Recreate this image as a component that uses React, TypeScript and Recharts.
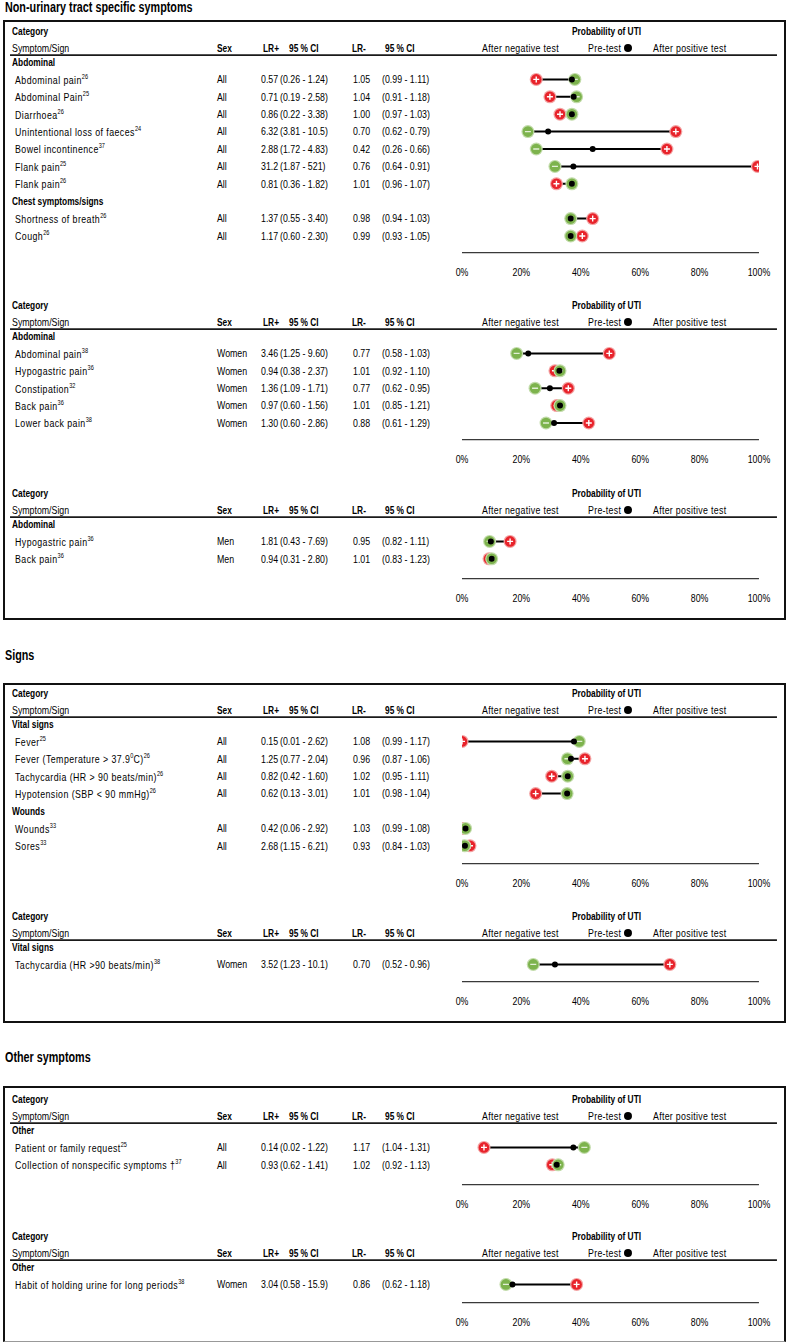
import React from "react";
import { ScatterChart, Scatter, XAxis, YAxis } from "recharts";

// row: label, sex, LR+, 95% CI, LR-, 95% CI, pre-test, after negative test, after positive test
type Row = (string | number)[];

const sectionTitles = ["Non-urinary tract specific symptoms", "Signs", "Other symptoms"];

const nonUrinaryAll: Row[] = [
  ["Abdominal"],
  ["Abdominal pain^{26}", "All", "0.57", "(0.26 - 1.24)", "1.05", "(0.99 - 1.11)", 0.37, 0.38, 0.25],
  ["Abdominal Pain^{25}", "All", "0.71", "(0.19 - 2.58)", "1.04", "(0.91 - 1.18)", 0.376, 0.386, 0.296],
  ["Diarrhoea^{26}", "All", "0.86", "(0.22 - 3.38)", "1.00", "(0.97 - 1.03)", 0.37, 0.37, 0.33],
  ["Unintentional loss of faeces^{24}", "All", "6.32", "(3.81 - 10.5)", "0.70", "(0.62 - 0.79)", 0.29, 0.222, 0.72],
  ["Bowel incontinence^{37}", "All", "2.88", "(1.72 - 4.83)", "0.42", "(0.26 - 0.66)", 0.44, 0.25, 0.69],
  ["Flank pain^{25}", "All", "31.2", "(1.87 - 521)", "0.76", "(0.64 - 0.91)", 0.375, 0.313, 0.995],
  ["Flank pain^{26}", "All", "0.81", "(0.36 - 1.82)", "1.01", "(0.96 - 1.07)", 0.37, 0.37, 0.318],
  ["Chest symptoms/signs"],
  ["Shortness of breath^{26}", "All", "1.37", "(0.55 - 3.40)", "0.98", "(0.94 - 1.03)", 0.366, 0.366, 0.44],
  ["Cough^{26}", "All", "1.17", "(0.60 - 2.30)", "0.99", "(0.93 - 1.05)", 0.366, 0.366, 0.405],
];

const nonUrinaryWomen: Row[] = [
  ["Abdominal"],
  ["Abdominal pain^{38}", "Women", "3.46", "(1.25 - 9.60)", "0.77", "(0.58 - 1.03)", 0.223, 0.184, 0.496],
  ["Hypogastric pain^{36}", "Women", "0.94", "(0.38 - 2.37)", "1.01", "(0.92 - 1.10)", 0.328, 0.33, 0.313],
  ["Constipation^{32}", "Women", "1.36", "(1.09 - 1.71)", "0.77", "(0.62 - 0.95)", 0.296, 0.246, 0.358],
  ["Back pain^{36}", "Women", "0.97", "(0.60 - 1.56)", "1.01", "(0.85 - 1.21)", 0.33, 0.33, 0.319],
  ["Lower back pain^{38}", "Women", "1.30", "(0.60 - 2.86)", "0.88", "(0.61 - 1.29)", 0.31, 0.283, 0.427],
];

const nonUrinaryMen: Row[] = [
  ["Abdominal"],
  ["Hypogastric pain^{36}", "Men", "1.81", "(0.43 - 7.69)", "0.95", "(0.82 - 1.11)", 0.097, 0.093, 0.162],
  ["Back pain^{36}", "Men", "0.94", "(0.31 - 2.80)", "1.01", "(0.83 - 1.23)", 0.1, 0.1, 0.091],
];

const signsAll: Row[] = [
  ["Vital signs"],
  ["Fever^{25}", "All", "0.15", "(0.01 - 2.62)", "1.08", "(0.99 - 1.17)", 0.377, 0.395, 0.0],
  ["Fever (Temperature > 37.9^{0}C)^{26}", "All", "1.25", "(0.77 - 2.04)", "0.96", "(0.87 - 1.06)", 0.367, 0.355, 0.414],
  ["Tachycardia (HR > 90 beats/min)^{26}", "All", "0.82", "(0.42 - 1.60)", "1.02", "(0.95 - 1.11)", 0.356, 0.356, 0.302],
  ["Hypotension (SBP < 90 mmHg)^{26}", "All", "0.62", "(0.13 - 3.01)", "1.01", "(0.98 - 1.04)", 0.354, 0.354, 0.248],
  ["Wounds"],
  ["Wounds^{33}", "All", "0.42", "(0.06 - 2.92)", "1.03", "(0.99 - 1.08)", 0.012, 0.012, 0.004],
  ["Sores^{33}", "All", "2.68", "(1.15 - 6.21)", "0.93", "(0.84 - 1.03)", 0.01, 0.009, 0.027],
];

const signsWomen: Row[] = [
  ["Vital signs"],
  ["Tachycardia (HR >90 beats/min)^{38}", "Women", "3.52", "(1.23 - 10.1)", "0.70", "(0.52 - 0.96)", 0.313, 0.24, 0.7],
];

const otherAll: Row[] = [
  ["Other"],
  ["Patient or family request^{25}", "All", "0.14", "(0.02 - 1.22)", "1.17", "(1.04 - 1.31)", 0.375, 0.412, 0.074],
  ["Collection of nonspecific symptoms \u2020^{37}", "All", "0.93", "(0.62 - 1.41)", "1.02", "(0.92 - 1.13)", 0.319, 0.324, 0.304],
];

const otherWomen: Row[] = [
  ["Other"],
  ["Habit of holding urine for long periods^{38}", "Women", "3.04", "(0.58 - 15.9)", "0.86", "(0.62 - 1.18)", 0.17, 0.148, 0.386],
];

const probTicks = [0, 0.2, 0.4, 0.6, 0.8, 1];
const tableHeaders = ["Sex", "LR+", "95 % CI", "LR-", "95 % CI"];
const probHeaders = ["After negative test", "Pre-test", "After positive test"];

const FONT = "'Liberation Sans', Arial, sans-serif";
const SX = 0.8; // narrow the glyphs to approximate Calibri
const UNIT = 17.4; // px per table row
const HEAD = 2.3; // rows of header above first row
const CAT_ROW = -1.8;
const SUB_ROW = -0.8;

const headerX = [217, 263, 289, 352, 385];
const cellX = [217, 261, 280, 353, 382];
const probHeaderX = [482, 588, 653];

// "text^{sup}" -> tspans
function richLabel(label: string) {
  const parts = label.split(/(\^\{[^}]*\})/).filter(Boolean);
  let prevSup = false;
  return parts.map((p, i) => {
    const m = p.match(/^\^\{(.*)\}$/);
    const sup = !!m;
    const dy = (sup ? -4 : 0) - (prevSup ? -4 : 0);
    prevSup = sup;
    return (
      <tspan key={i} dy={dy} fontSize={sup ? 7 : undefined} letterSpacing={sup ? 0 : undefined}>
        {m ? m[1] : p}
      </tspan>
    );
  });
}

const T = ({ x, y, bold, anchor, spacing, children }: any) => (
  <text
    transform={`translate(${x},${y}) scale(${bold ? SX - 0.04 : SX},1)`}
    dominantBaseline="central"
    textAnchor={anchor}
    fontSize={11}
    fontWeight={bold ? "bold" : "normal"}
    letterSpacing={spacing}
    fill="#000"
  >
    {children}
  </text>
);

const RowTick = (props: any) => {
  const { y, payload, rows } = props;
  const v = payload.value;
  if (v === CAT_ROW) {
    return (
      <g>
        <T x={12} y={y} bold>Category</T>
        <T x={572} y={y} bold>Probability of UTI</T>
      </g>
    );
  }
  if (v === SUB_ROW) {
    return (
      <g>
        <T x={12} y={y}>Symptom/Sign</T>
        {tableHeaders.map((h, i) => (
          <T key={i} x={headerX[i]} y={y} bold>{h}</T>
        ))}
        {probHeaders.map((h, i) => (
          <T key={"p" + i} x={probHeaderX[i]} y={y} spacing={0.4}>{h}</T>
        ))}
        <circle cx={628} cy={y} r={4} fill="#000" />
        <line x1={10} x2={777} y1={y + 7} y2={y + 7} stroke="#1a1a1a" strokeWidth={1.6} />
      </g>
    );
  }
  const row: Row = rows[v];
  if (!row) return null;
  if (row.length === 1) {
    return <T x={12} y={y} bold>{row[0] as string}</T>;
  }
  return (
    <g>
      <T x={15} y={y} spacing={0.55}>{richLabel(row[0] as string)}</T>
      {[1, 2, 3, 4, 5].map((c, i) => (
        <T key={c} x={cellX[i]} y={y}>{row[c] as string}</T>
      ))}
    </g>
  );
};

const ProbTick = (props: any) => {
  const { x, y, payload } = props;
  return (
    <T x={x} y={y + 19} anchor="middle">
      {Math.round(payload.value * 100)}%
    </T>
  );
};

const PosMarker = (props: any) => {
  const { cx, cy } = props;
  return (
    <g>
      <circle cx={cx} cy={cy} r={6.5} fill="#f3a2a2" />
      <circle cx={cx} cy={cy} r={5.3} fill="#e8232b" />
      <path d={`M${cx - 3},${cy}H${cx + 3}M${cx},${cy - 3}V${cy + 3}`} stroke="#fff" strokeWidth={1.4} />
    </g>
  );
};

const NegMarker = (props: any) => {
  const { cx, cy } = props;
  return (
    <g>
      <circle cx={cx} cy={cy} r={6.5} fill="#c1dba9" />
      <circle cx={cx} cy={cy} r={5.3} fill="#7db34d" />
      <path d={`M${cx - 3},${cy}H${cx + 3}`} stroke="#e2efd6" strokeWidth={1.4} />
    </g>
  );
};

const PreMarker = (props: any) => {
  const { cx, cy } = props;
  return <circle cx={cx} cy={cy} r={3} fill="#000" />;
};

const Empty = () => <g />;

function Panel({ rows, top, axisY }: { rows: Row[]; top: number; axisY: number }) {
  const chartTop = top - 0.5 * UNIT;
  const firstY = chartTop + HEAD * UNIT;
  const maxV = (axisY - firstY) / UNIT;
  const height = axisY - chartTop + 30;
  const ticks = [CAT_ROW, SUB_ROW, ...rows.map((_, i) => i)];
  const items = rows.map((r, i) => ({ r, i })).filter((d) => d.r.length > 1);
  const pre = items.map((d) => ({ x: d.r[6], y: d.i }));
  const neg = items.map((d) => ({ x: d.r[7], y: d.i }));
  const pos = items.map((d) => ({ x: d.r[8], y: d.i }));

  return (
    <div style={{ position: "absolute", left: 0, top: chartTop }}>
      <ScatterChart width={788} height={height} margin={{ top: 0, right: 29, bottom: 0, left: 0 }}>
        <XAxis
          type="number"
          dataKey="x"
          domain={[0, 1]}
          ticks={probTicks}
          interval={0}
          tickSize={0}
          tickMargin={0}
          tickLine={false}
          axisLine={{ stroke: "#3a3a3a", strokeWidth: 1.2 }}
          height={30}
          tick={ProbTick}
          allowDataOverflow
        />
        <YAxis
          type="number"
          dataKey="y"
          domain={[-HEAD, maxV]}
          reversed
          ticks={ticks}
          interval={0}
          width={462}
          axisLine={false}
          tickLine={false}
          tick={(p: any) => <RowTick {...p} rows={rows} />}
          allowDataOverflow
        />
        {items.map((d) => {
          const a = d.r[7] as number;
          const b = d.r[8] as number;
          return (
            <Scatter
              key={"l" + d.i}
              data={[
                { x: Math.min(a, b), y: d.i },
                { x: Math.max(a, b), y: d.i },
              ]}
              line={{ stroke: "#000", strokeWidth: 2 }}
              shape={Empty}
              isAnimationActive={false}
            />
          );
        })}
        <Scatter data={pos} shape={PosMarker} isAnimationActive={false} />
        <Scatter data={neg} shape={NegMarker} isAnimationActive={false} />
        <Scatter data={pre} shape={PreMarker} isAnimationActive={false} />
      </ScatterChart>
    </div>
  );
}

const boxStyle = (top: number, height: number, bottom = "2px solid #111"): React.CSSProperties => ({
  position: "absolute",
  left: 3,
  top,
  width: 783,
  height,
  boxSizing: "border-box",
  border: "2px solid #111",
  borderBottom: bottom,
});

const titleStyle = (centerY: number): React.CSSProperties => ({
  position: "absolute",
  left: 5,
  top: centerY - 9,
  fontSize: 14,
  fontWeight: "bold",
  lineHeight: "18px",
  color: "#000",
  whiteSpace: "nowrap",
  transform: "scaleX(0.77)",
  transformOrigin: "0 0",
});

export default function App() {
  return (
    <div
      style={{
        position: "absolute",
        left: 0,
        top: 0,
        width: 788,
        height: 1343,
        background: "#fff",
        fontFamily: FONT,
        overflow: "hidden",
      }}
    >
      <div style={titleStyle(7)}>{sectionTitles[0]}</div>
      <div style={titleStyle(655)}>{sectionTitles[1]}</div>
      <div style={titleStyle(1057)}>{sectionTitles[2]}</div>
      <div style={boxStyle(20, 600)} />
      <div style={boxStyle(683, 340)} />
      <div style={boxStyle(1086, 256, "1px solid #999")} />

      <Panel rows={nonUrinaryAll} top={31} axisY={253} />
      <Panel rows={nonUrinaryWomen} top={305} axisY={440} />
      <Panel rows={nonUrinaryMen} top={493} axisY={579} />
      <Panel rows={signsAll} top={693} axisY={864} />
      <Panel rows={signsWomen} top={916} axisY={982} />
      <Panel rows={otherAll} top={1099} axisY={1185} />
      <Panel rows={otherWomen} top={1236} axisY={1303} />
    </div>
  );
}
